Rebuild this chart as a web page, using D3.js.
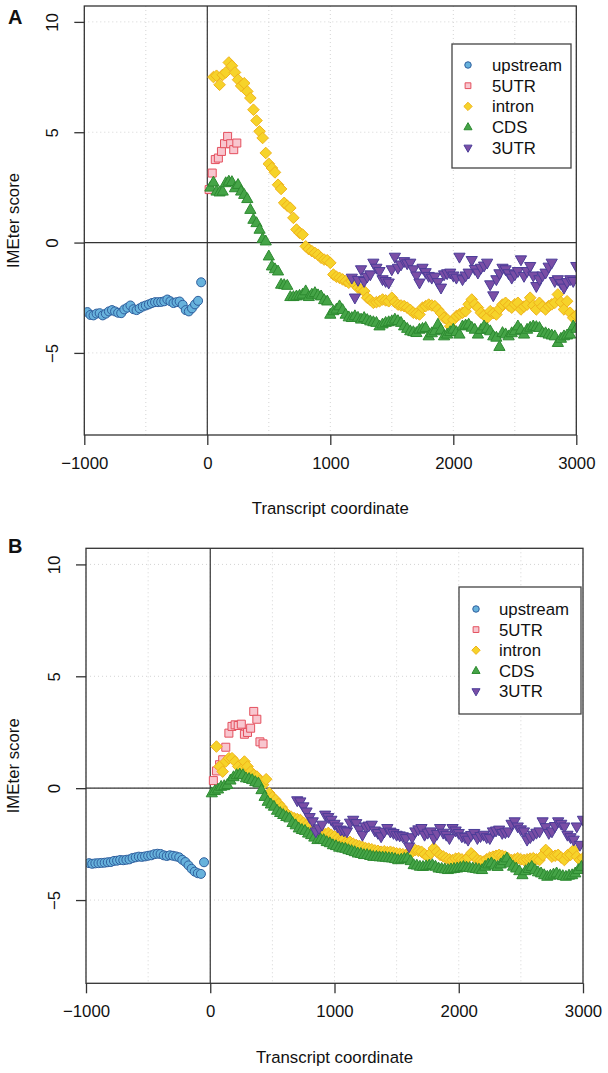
<!DOCTYPE html>
<html><head><meta charset="utf-8">
<script src="https://cdn.jsdelivr.net/npm/d3@7"></script>
<style>
body{margin:0;background:#fff}
svg{display:block}
text{font-family:"Liberation Sans",Arial,Helvetica,sans-serif;fill:#111}
</style>
</head><body>
<svg id="chart" width="608" height="1073"></svg>
<script>
// ---------------- data ----------------
const seriesNames = ["upstream", "5UTR", "intron", "CDS", "3UTR"];
const xTicks = [-1000, 0, 1000, 2000, 3000];
const yTicks = [-5, 0, 5, 10];
const binStep = 25;

// Panel A
const aUpstreamStart = -975;
const aUpstream = [-3.15,-3.28,-3.30,-3.22,-3.20,-3.30,-3.22,-3.12,-3.06,-3.12,-3.18,-3.20,-3.03,-2.95,-2.85,-3.02,-3.06,-2.98,-2.90,-2.85,-2.80,-2.74,-2.70,-2.70,-2.69,-2.66,-2.58,-2.66,-2.74,-2.70,-2.67,-2.82,-3.06,-3.12,-2.98,-2.80,-2.64,-1.80];
const a5UTRStart = 15;
const a5UTR = [2.40,3.15,3.76,3.83,4.13,4.48,4.81,4.48,4.21,4.51];
const aIntronStart = 50;
const aIntron = [7.50,7.56,7.15,7.60,7.71,8.16,8.01,7.71,7.38,7.10,7.22,6.85,6.55,6.02,5.53,5.04,4.74,4.06,3.57,3.38,3.18,2.62,2.43,1.80,1.67,1.57,1.12,0.59,0.44,0.36,-0.17,-0.30,-0.39,-0.47,-0.55,-0.69,-0.77,-0.80,-0.92,-1.45,-1.55,-1.60,-1.67,-1.75,-1.82,-1.75,-1.90,-2.05,-2.12,-2.20,-2.50,-2.60,-2.73,-2.70,-2.66,-2.58,-2.62,-2.66,-2.50,-2.70,-2.81,-2.85,-2.88,-2.95,-3.05,-3.18,-3.22,-3.26,-2.95,-2.88,-2.81,-2.85,-2.88,-3.03,-3.20,-3.41,-3.48,-3.79,-3.50,-3.33,-3.25,-3.18,-3.11,-2.80,-2.58,-2.80,-2.95,-3.18,-3.30,-3.41,-3.11,-3.20,-3.26,-3.00,-2.81,-2.73,-2.85,-2.95,-2.80,-2.73,-3.03,-2.90,-2.81,-2.50,-2.85,-3.03,-2.73,-2.90,-3.03,-2.88,-2.80,-2.73,-2.35,-2.70,-3.03,-2.66,-3.18,-3.41,-3.30];
const aCDSStart = 25;
const aCDS = [2.50,2.73,2.32,2.28,2.32,2.70,2.77,2.75,2.47,2.62,2.32,2.17,1.98,1.49,1.04,0.89,0.59,0.17,0.06,-0.62,-1.07,-1.20,-1.30,-1.90,-1.92,-1.95,-2.46,-2.46,-2.43,-2.40,-2.35,-2.20,-2.46,-2.35,-2.28,-2.38,-2.43,-2.60,-2.66,-3.26,-3.10,-3.03,-2.88,-3.05,-3.26,-3.38,-3.41,-3.33,-3.40,-3.48,-3.41,-3.50,-3.56,-3.60,-3.63,-3.79,-3.70,-3.63,-3.60,-3.56,-3.48,-3.55,-3.63,-3.79,-3.90,-4.01,-4.05,-4.09,-3.94,-3.90,-3.86,-4.24,-4.10,-4.01,-3.71,-3.95,-4.24,-4.16,-4.05,-3.94,-4.05,-4.16,-3.79,-3.75,-3.71,-3.85,-3.94,-4.16,-3.95,-3.79,-3.90,-4.01,-4.24,-4.30,-4.72,-4.09,-4.15,-4.24,-4.10,-4.01,-3.79,-3.95,-4.16,-3.94,-3.85,-3.79,-3.82,-3.86,-4.09,-4.10,-4.16,-4.20,-4.24,-4.54,-4.35,-4.24,-4.20,-4.16,-3.79,-3.90];
const a3UTRStart = 1175;
const a3UTR = [-1.60,-2.50,-1.70,-1.22,-1.75,-1.55,-1.45,-0.92,-1.15,-1.30,-1.67,-1.75,-1.82,-1.22,-0.65,-1.15,-1.00,-0.85,-0.95,-0.92,-1.22,-1.50,-1.82,-1.15,-1.35,-1.52,-1.60,-1.55,-1.80,-2.05,-1.45,-1.40,-1.37,-1.50,-1.60,-0.65,-1.67,-1.50,-1.37,-0.80,-1.20,-1.37,-1.15,-1.05,-0.92,-1.90,-2.40,-1.67,-1.40,-1.15,-1.22,-1.40,-1.60,-1.45,-1.30,-0.77,-1.52,-1.30,-1.07,-1.50,-1.98,-1.67,-1.50,-1.37,-1.10,-0.92,-1.75,-1.67,-1.85,-2.05,-1.80,-1.67,-1.75,-1.07];

// Panel B
const bUpstreamStart = -975;
const bUpstream = [-3.35,-3.38,-3.36,-3.35,-3.34,-3.33,-3.31,-3.30,-3.25,-3.24,-3.21,-3.22,-3.20,-3.18,-3.12,-3.09,-3.06,-3.07,-3.05,-3.02,-3.00,-2.95,-2.93,-2.94,-3.00,-3.03,-3.00,-3.02,-3.05,-3.09,-3.20,-3.30,-3.45,-3.60,-3.73,-3.80,-3.83,-3.31];
const b5UTRStart = 25;
const b5UTR = [0.34,0.77,1.05,1.27,1.83,2.46,2.76,2.83,2.80,2.86,2.41,2.49,2.68,3.43,3.08,2.07,1.98];
const bIntronStart = 50;
const bIntron = [1.86,0.97,0.74,1.19,1.34,1.34,1.19,0.97,0.82,1.19,0.97,0.74,0.60,0.52,0.34,0.15,0.40,-0.22,-0.40,-0.52,-0.70,-0.85,-1.05,-1.20,-1.27,-1.34,-1.38,-1.42,-1.55,-1.64,-1.72,-1.85,-1.94,-1.90,-2.01,-2.05,-2.00,-2.09,-2.15,-2.25,-2.31,-2.28,-2.39,-2.40,-2.48,-2.54,-2.58,-2.62,-2.68,-2.70,-2.73,-2.78,-2.80,-2.84,-2.82,-2.86,-2.84,-2.88,-2.91,-2.93,-2.95,-2.98,-2.90,-2.85,-2.76,-2.80,-2.84,-2.95,-3.06,-2.90,-2.68,-2.85,-2.98,-3.05,-3.13,-3.18,-3.21,-3.15,-3.13,-3.18,-3.21,-3.10,-2.91,-3.05,-3.21,-3.25,-3.28,-3.18,-3.10,-3.06,-3.02,-2.98,-3.02,-3.06,-3.15,-3.21,-3.18,-3.13,-3.18,-3.21,-3.18,-3.15,-3.13,-3.18,-3.21,-3.00,-2.76,-2.90,-3.06,-3.02,-2.98,-3.10,-3.21,-3.00,-2.98,-2.76,-3.05,-3.21,-3.13];
const bCDSStart = 12.5;
const bCDS = [-0.22,-0.12,-0.05,0.07,0.10,0.15,0.35,0.50,0.59,0.62,0.59,0.45,0.42,0.37,0.28,0.22,-0.08,-0.38,-0.60,-0.72,-0.82,-1.00,-1.10,-1.19,-1.28,-1.34,-1.55,-1.65,-1.79,-1.86,-1.90,-2.02,-2.09,-2.20,-2.31,-2.28,-2.31,-2.40,-2.45,-2.54,-2.58,-2.65,-2.68,-2.70,-2.76,-2.80,-2.85,-2.91,-2.93,-2.98,-2.98,-3.02,-3.06,-3.06,-3.08,-3.09,-3.10,-3.12,-3.13,-3.16,-3.21,-3.18,-3.15,-3.13,-3.25,-3.43,-3.45,-3.50,-3.51,-3.48,-3.45,-3.43,-3.50,-3.58,-3.60,-3.62,-3.65,-3.62,-3.60,-3.58,-3.55,-3.51,-3.54,-3.56,-3.58,-3.60,-3.63,-3.65,-3.50,-3.40,-3.35,-3.45,-3.51,-3.40,-3.25,-3.13,-3.35,-3.50,-3.58,-3.70,-3.88,-3.70,-3.60,-3.51,-3.65,-3.75,-3.80,-3.88,-3.95,-3.90,-3.85,-3.80,-3.88,-3.92,-3.95,-3.90,-3.88,-3.80,-3.65,-3.51];
const b3UTRStart = 700;
const b3UTR = [-0.55,-0.60,-0.82,-1.05,-1.30,-1.49,-1.94,-1.80,-1.64,-1.19,-1.30,-1.42,-1.60,-1.72,-1.86,-1.90,-1.94,-1.55,-1.42,-1.57,-1.85,-2.09,-1.72,-1.68,-1.64,-1.90,-2.01,-2.16,-1.95,-1.79,-1.95,-2.01,-2.09,-2.12,-2.16,-2.24,-2.61,-2.20,-1.94,-1.85,-1.79,-2.09,-2.00,-1.94,-2.24,-2.05,-1.79,-2.00,-2.09,-2.24,-1.79,-1.90,-2.01,-2.16,-2.20,-2.31,-2.10,-2.01,-2.24,-2.15,-2.09,-2.20,-2.24,-1.94,-1.90,-1.86,-2.01,-1.98,-1.94,-1.60,-1.49,-1.72,-1.85,-1.94,-2.31,-2.20,-2.09,-2.00,-1.94,-1.49,-1.75,-2.01,-1.94,-1.70,-1.49,-1.60,-1.72,-2.09,-2.20,-2.31,-1.72,-2.54,-1.42];

// ---------------- styles ----------------
const fills   = {"upstream":"#67b2dc","5UTR":"#f8c6cf","intron":"#f6d32a","CDS":"#45a447","3UTR":"#7a4ea5"};
const strokes = {"upstream":"#2f5f9e","5UTR":"#e4505e","intron":"#efb31c","CDS":"#2d8a30","3UTR":"#4a3c98"};

function shapePath(name, s) {
  if (name === "upstream") { const r = 4.5*s; return `M${r},0A${r},${r} 0 1,1 ${-r},0A${r},${r} 0 1,1 ${r},0Z`; }
  if (name === "5UTR") { const h = 4.0*s; return `M${-h},${-h}H${h}V${h}H${-h}Z`; }
  if (name === "intron") { const h = 5.8*s; return `M0,${-h}L${h},0L0,${h}L${-h},0Z`; }
  if (name === "CDS") { const w = 5.6*s, t = 6.2*s, b = 3.7*s; return `M0,${-t}L${w},${b}L${-w},${b}Z`; }
  const w = 5.6*s, t = 6.2*s, b = 3.7*s; return `M0,${t}L${w},${-b}L${-w},${-b}Z`;
}

const svg = d3.select("#chart");
const FONT = 16.8;

function panel(cfg) {
  const {left, right, top, bottom, label, series, legend, id} = cfg;
  const x = d3.scaleLinear().domain([-1000, 3000]).range([left, right]);
  const y = d3.scaleLinear().domain([-8.72, 10.72]).range([bottom, top]);
  const g = svg.append("g");

  g.append("clipPath").attr("id", "clip" + id).append("rect")
    .attr("x", left).attr("y", top).attr("width", right - left).attr("height", bottom - top);

  // grid
  const gx = d3.range(-1000, 3001, 500), gy = [-5, 0, 5, 10];
  g.selectAll(".gx").data(gx).join("line")
    .attr("x1", d => x(d)).attr("x2", d => x(d)).attr("y1", top).attr("y2", bottom)
    .attr("stroke", "#d4d4d4").attr("stroke-width", 1).attr("stroke-dasharray", "1,3");
  g.selectAll(".gy").data(gy).join("line")
    .attr("y1", d => y(d)).attr("y2", d => y(d)).attr("x1", left).attr("x2", right)
    .attr("stroke", "#d4d4d4").attr("stroke-width", 1).attr("stroke-dasharray", "1,3");

  // reference lines
  g.append("line").attr("x1", left).attr("x2", right).attr("y1", y(0)).attr("y2", y(0))
    .attr("stroke", "#333").attr("stroke-width", 1.2);
  g.append("line").attr("x1", x(0)).attr("x2", x(0)).attr("y1", top).attr("y2", bottom)
    .attr("stroke", "#333").attr("stroke-width", 1.2);

  // points
  const pg = g.append("g").attr("clip-path", `url(#clip${id})`);
  series.forEach(s => {
    const pts = s.values.map((v, i) => ({xv: s.start + i * binStep, yv: v}));
    pg.append("g").selectAll("path").data(pts).join("path")
      .attr("transform", d => `translate(${x(d.xv)},${y(d.yv)})`)
      .attr("d", shapePath(s.name, 1))
      .attr("fill", fills[s.name]).attr("stroke", strokes[s.name]).attr("stroke-width", 1);
  });

  // box
  g.append("rect").attr("x", left).attr("y", top).attr("width", right - left).attr("height", bottom - top)
    .attr("fill", "none").attr("stroke", "#333").attr("stroke-width", 1.3);

  // axes
  const xa = g.append("g").attr("transform", `translate(0,${bottom})`)
    .call(d3.axisBottom(x).tickValues(xTicks).tickSize(10).tickPadding(12)
      .tickFormat(d => d < 0 ? "\u2212" + Math.abs(d) : String(d)));
  xa.select(".domain").remove();
  xa.selectAll("line").attr("stroke", "#333").attr("stroke-width", 1.3);
  xa.selectAll("text").attr("font-size", FONT).attr("fill", "#111").attr("font-family", '"Liberation Sans",Arial,sans-serif');

  const ya = g.append("g").attr("transform", `translate(${left},0)`)
    .call(d3.axisLeft(y).tickValues(yTicks).tickSize(10).tickFormat(d => d < 0 ? "\u2212" + Math.abs(d) : String(d)));
  ya.select(".domain").remove();
  ya.selectAll("line").attr("stroke", "#333").attr("stroke-width", 1.3);
  ya.selectAll("text").attr("font-size", FONT).attr("fill", "#111").attr("font-family", '"Liberation Sans",Arial,sans-serif')
    .attr("x", null).attr("dy", null).attr("text-anchor", "middle")
    .attr("transform", `translate(${-(left - cfg.yLabX)},0) rotate(-90) translate(0,${FONT*0.36})`);

  // titles
  g.append("text").attr("x", (left + right) / 2).attr("y", cfg.xTitleY)
    .attr("text-anchor", "middle").attr("font-size", FONT).text("Transcript coordinate");
  g.append("text").attr("transform", `translate(${cfg.yTitleX},${(top + bottom) / 2}) rotate(-90)`)
    .attr("text-anchor", "middle").attr("dy", "0.36em").attr("font-size", FONT).text("IMEter score");
  g.append("text").attr("x", 8).attr("y", cfg.labelY).attr("font-size", 20).attr("font-weight", "bold").text(label);

  // legend
  const L = legend;
  g.append("rect").attr("x", L.x0).attr("y", L.y0).attr("width", L.x1 - L.x0).attr("height", L.y1 - L.y0)
    .attr("fill", "#fff").attr("stroke", "#444").attr("stroke-width", 1.3);
  seriesNames.forEach((n, i) => {
    const yy = L.firstY + i * L.gap;
    g.append("path").attr("transform", `translate(${L.symX},${yy})`).attr("d", shapePath(n, 0.72))
      .attr("fill", fills[n]).attr("stroke", strokes[n]).attr("stroke-width", 1);
    g.append("text").attr("x", L.textX).attr("y", yy).attr("dy", "0.36em").attr("font-size", FONT).text(n);
  });
}

panel({
  id: "A", label: "A", left: 84.3, right: 576.3, top: 6, bottom: 435,
  labelY: 24, xTitleY: 514, yTitleX: 13, yLabX: 52,
  legend: {x0: 452, y0: 44, x1: 571, y1: 168, firstY: 65, gap: 20.7, symX: 468, textX: 492},
  series: [
    {name: "upstream", start: aUpstreamStart, values: aUpstream},
    {name: "5UTR", start: a5UTRStart, values: a5UTR},
    {name: "intron", start: aIntronStart, values: aIntron},
    {name: "CDS", start: aCDSStart, values: aCDS},
    {name: "3UTR", start: a3UTRStart, values: a3UTR}
  ]
});
panel({
  id: "B", label: "B", left: 86, right: 583, top: 548.3, bottom: 983.3,
  labelY: 553, xTitleY: 1063, yTitleX: 13, yLabX: 54,
  legend: {x0: 459, y0: 587, x1: 581, y1: 714, firstY: 609, gap: 20.6, symX: 476, textX: 499},
  series: [
    {name: "upstream", start: bUpstreamStart, values: bUpstream},
    {name: "5UTR", start: b5UTRStart, values: b5UTR},
    {name: "intron", start: bIntronStart, values: bIntron},
    {name: "CDS", start: bCDSStart, values: bCDS},
    {name: "3UTR", start: b3UTRStart, values: b3UTR}
  ]
});
</script>
</body></html>
